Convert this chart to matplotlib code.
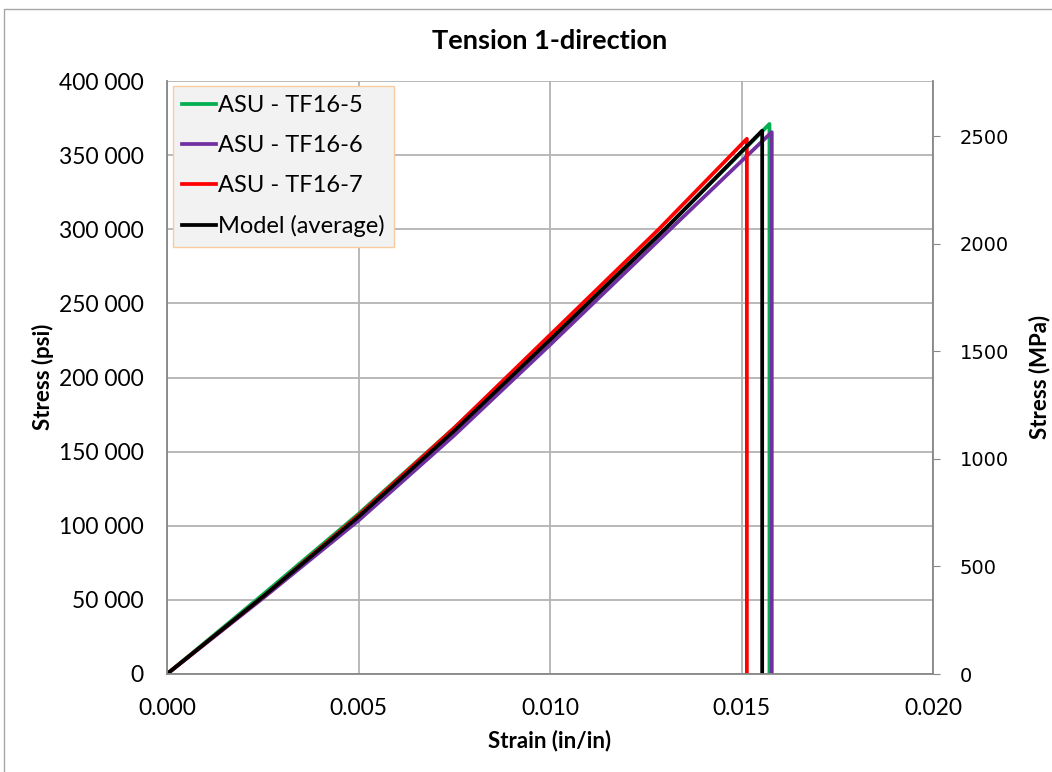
import matplotlib
matplotlib.use("Agg")
import matplotlib.pyplot as plt
from matplotlib.patches import Rectangle
from matplotlib.ticker import FuncFormatter, MultipleLocator

# strain (in/in) and stress (psi)
tf5_strain = [0.0, 0.0025, 0.005, 0.0075, 0.010, 0.0130, 0.01573, 0.01573]
tf5_stress = [0, 53500, 108000, 166000, 226500, 300000, 371000, 0]

tf6_strain = [0.0, 0.0025, 0.005, 0.0075, 0.010, 0.01314, 0.01579, 0.01579]
tf6_stress = [0, 51000, 103500, 161000, 222000, 300000, 365500, 0]

tf7_strain = [0.0, 0.0025, 0.005, 0.0075, 0.010, 0.01284, 0.01514, 0.01514]
tf7_stress = [0, 52000, 107000, 166000, 228700, 300000, 361000, 0]

avg_strain = [0.0, 0.0025, 0.005, 0.0075, 0.010, 0.0130, 0.01554, 0.01554]
avg_stress = [0, 52000, 106000, 164000, 225300, 300000, 366500, 0]

PSI_TO_MPA = 0.00689476

font_main = "Lato"
grid_c = "#b3b3b3"
spine_c = "#878787"

fig = plt.figure(figsize=(10.52, 7.72), dpi=100)
fig.patches.append(Rectangle((4 / 1052, -0.1), 1.2, 1 - 9 / 772 + 0.1,
                             transform=fig.transFigure, fill=False,
                             edgecolor="#a6a6a6", linewidth=1.0))

ax = fig.add_axes([167 / 1052, 1 - 674 / 772, (933 - 167) / 1052, (674 - 81) / 772])

ax.plot(tf5_strain, tf5_stress, color="#00b050", lw=2.7, label="ASU - TF16-5")
ax.plot(tf6_strain, tf6_stress, color="#7030a0", lw=2.7, label="ASU - TF16-6")
ax.plot(tf7_strain, tf7_stress, color="#ff0000", lw=2.7, label="ASU - TF16-7")
ax.plot(avg_strain, avg_stress, color="#000000", lw=2.7, label="Model (average)")

ax.set_xlim(0, 0.020)
ax.set_ylim(0, 400000)
ax.xaxis.set_major_locator(MultipleLocator(0.005))
ax.yaxis.set_major_locator(MultipleLocator(50000))
ax.xaxis.set_major_formatter(FuncFormatter(lambda v, p: f"{v:.3f}"))
ax.yaxis.set_major_formatter(FuncFormatter(lambda v, p: f"{int(v):,}".replace(",", " ")))
ax.grid(True, color=grid_c, lw=1.3)
ax.set_axisbelow(True)
ax.tick_params(axis="y", length=0, pad=17, labelsize=16.5)
ax.tick_params(axis="x", length=0, pad=17, labelsize=16.5)
for lab in ax.get_xticklabels() + ax.get_yticklabels():
    lab.set_fontfamily(font_main)
for s in ax.spines.values():
    s.set_color(spine_c)
    s.set_linewidth(1.3)
ax.spines["top"].set_visible(False)
ax.spines["right"].set_visible(False)

ax2 = ax.twinx()
ax2.set_ylim(0, 400000 * PSI_TO_MPA)
ax2.yaxis.set_major_locator(MultipleLocator(500))
ax2.tick_params(axis="y", direction="out", length=5, color=spine_c, labelsize=14, pad=14)
for s in ax2.spines.values():
    s.set_visible(False)
ax2.spines["right"].set_visible(True)
ax2.spines["right"].set_color(spine_c)
ax2.spines["right"].set_linewidth(1.3)

ax.set_title("Tension 1-direction", fontsize=19.5, fontweight="bold", family=font_main, pad=23)
ax.set_xlabel("Strain (in/in)", fontsize=16, fontweight="bold", family=font_main, labelpad=8)
fig.text(43 / 1052, 1 - 377 / 772, "Stress (psi)", rotation=90, ha="center", va="center",
         fontsize=16, fontweight="bold", family=font_main)
fig.text(1040 / 1052, 1 - 377 / 772, "Stress (MPa)", rotation=90, ha="center", va="center",
         fontsize=16, fontweight="bold", family=font_main)

leg = ax.legend(loc="upper left", bbox_to_anchor=(6 / 766, 1 - 5 / 593),
                prop={"family": font_main, "size": 17}, frameon=True, fancybox=False,
                handlelength=1.4, handletextpad=0.1, labelspacing=0.8, borderpad=0.4,
                borderaxespad=0)
leg.get_frame().set_facecolor("#f2f2f2")
leg.get_frame().set_edgecolor("#f8cba0")
leg.get_frame().set_alpha(1)

fig.savefig("out.png", dpi=100)
